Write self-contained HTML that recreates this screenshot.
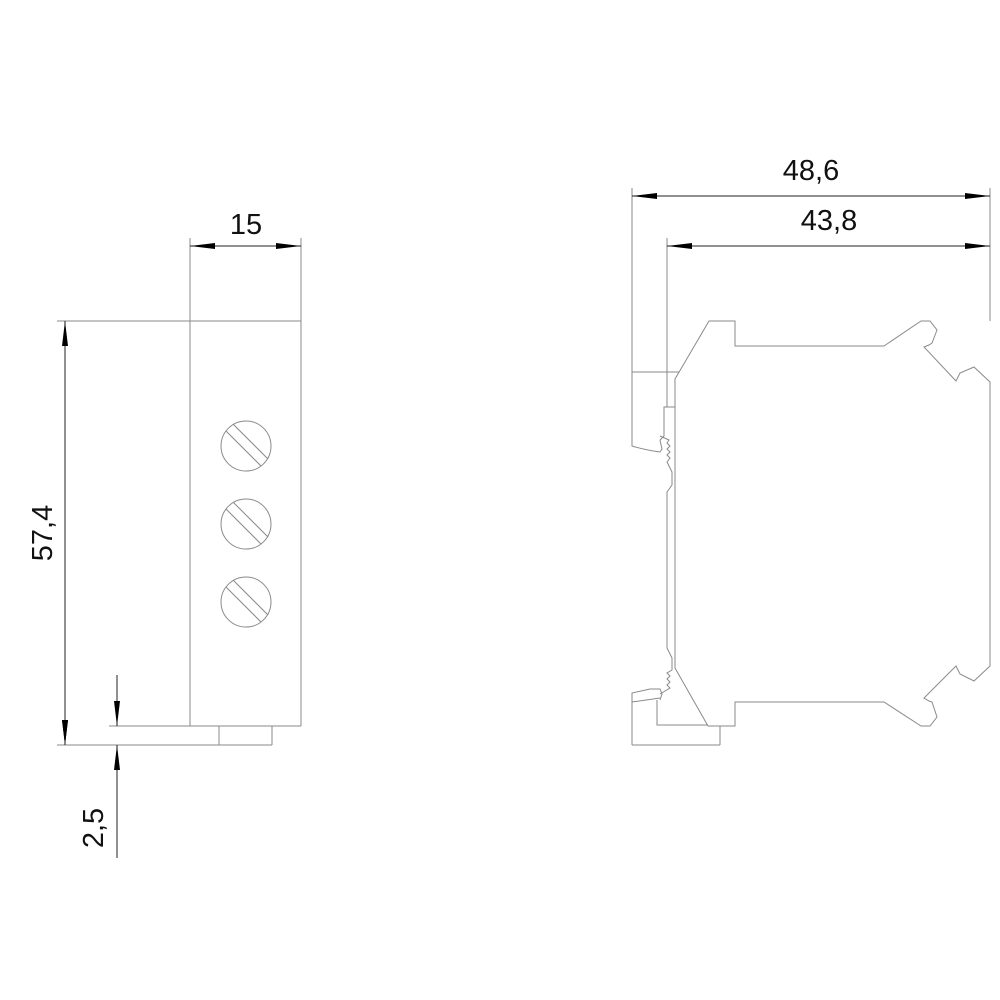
<!DOCTYPE html>
<html><head><style>body{margin:0;background:#fff}svg{display:block}text{font-family:"Liberation Sans",sans-serif;font-size:29px;fill:#111}</style></head><body>
<svg width="1000" height="1000" viewBox="0 0 1000 1000">
<defs>
<marker id="a" viewBox="0 0 25 6" refX="25" refY="3" markerWidth="25" markerHeight="6" markerUnits="userSpaceOnUse" orient="auto"><path d="M0,0L25,3L0,6Z" fill="#000"/></marker>
</defs>
<g stroke="#8a8a8a" stroke-width="1" fill="none">
<!-- left view -->
<line x1="57" y1="321" x2="301" y2="321"/>
<line x1="190" y1="238" x2="190" y2="726"/>
<line x1="301" y1="238" x2="301" y2="726"/>
<line x1="109" y1="726" x2="301" y2="726"/>
<line x1="57" y1="745" x2="272" y2="745"/>
<line x1="219" y1="726" x2="219" y2="745"/>
<line x1="272" y1="726" x2="272" y2="745"/>
<g id="s"><circle cx="246" cy="446" r="25"/><line x1="226" y1="431" x2="261" y2="466"/><line x1="233" y1="424" x2="268" y2="459"/></g>
<use href="#s" y="78"/><use href="#s" y="156"/>
<!-- right view -->
<line x1="632" y1="188" x2="632" y2="443"/>
<line x1="667" y1="238" x2="667" y2="407"/>
<line x1="990" y1="188" x2="990" y2="321"/>
<line x1="632" y1="372" x2="679" y2="372"/>
<path d="M632,443 L632,446 Q645,450 660,452 L662,449 L660,440 L664,436 L664,407 L675,407"/>
<path d="M660,436 L669,440 L667,443 L670,446 L667,449 L670,452 L667,455 L670,458 L667,462 L672,472 L672,485 L667,492 L667,648 L672,658 L672,670 L667,673 L670,676 L667,679 L670,682 L667,685 L670,688 L660,694"/>
<path d="M632,745 L632,693 L650,689 L660,689 L662,694 L660,700"/>
<path d="M632,702 L660,698"/>
<line x1="632" y1="745" x2="720" y2="745"/>
<line x1="720" y1="726" x2="720" y2="745"/>
<path d="M657,700 L657,725 L708,725"/>
<path d="M709,321 L735,321 L735,346 L884,346 L921,321 L930,321 L937,330 L932,343 L929,345 L924,347 L956,381 L960,373 L974,367 L990,382 L990,666 L974,681 L960,674 L956,666 L924,698 L929,701 L932,702 L937,717 L930,726 L921,726 L884,702 L735,702 L735,726 L708,726 L675,668 L675,379 Z"/>
</g>
<g stroke="#222" stroke-width="1" fill="none">
<line x1="65" y1="321" x2="65" y2="745" marker-end="url(#a)" marker-start="url(#b)"/>
<line x1="65" y1="533" x2="65" y2="321" marker-end="url(#a)"/>
<line x1="65" y1="533" x2="65" y2="745" marker-end="url(#a)"/>
<line x1="117" y1="675" x2="117" y2="726" marker-end="url(#a)"/>
<line x1="117" y1="858" x2="117" y2="745" marker-end="url(#a)"/>
<line x1="245" y1="246" x2="190" y2="246" marker-end="url(#a)"/>
<line x1="245" y1="246" x2="301" y2="246" marker-end="url(#a)"/>
<line x1="811" y1="196" x2="632" y2="196" marker-end="url(#a)"/>
<line x1="811" y1="196" x2="990" y2="196" marker-end="url(#a)"/>
<line x1="828" y1="246" x2="667" y2="246" marker-end="url(#a)"/>
<line x1="828" y1="246" x2="990" y2="246" marker-end="url(#a)"/>
</g>
<text x="246" y="234" text-anchor="middle">15</text>
<text x="811" y="180" text-anchor="middle">48,6</text>
<text x="829" y="230" text-anchor="middle">43,8</text>
<text transform="translate(52,533) rotate(-90)" text-anchor="middle">57,4</text>
<text transform="translate(103,828) rotate(-90)" text-anchor="middle">2,5</text>
</svg>
</body></html>
